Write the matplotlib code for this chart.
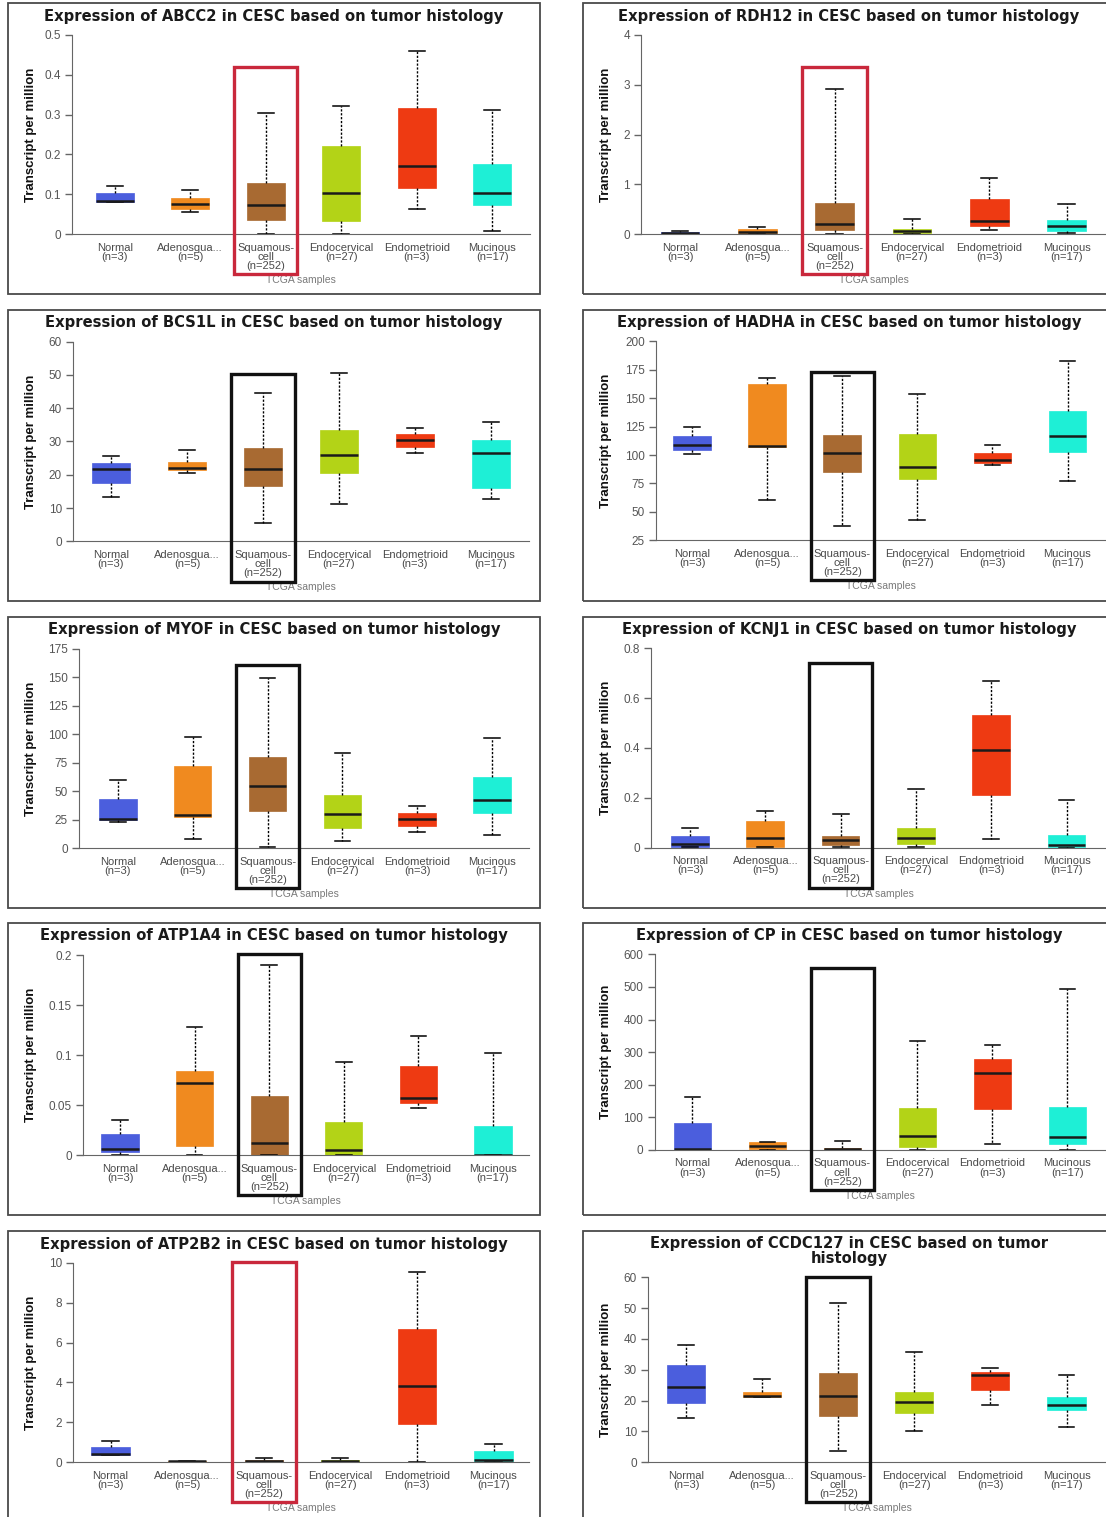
import numpy as np
import matplotlib.pyplot as plt
from matplotlib.patches import Rectangle
from matplotlib.transforms import blended_transform_factory

W, H = 1106, 1517

groups = ['Normal\n(n=3)', 'Adenosqua...\n(n=5)', 'Squamous-\ncell\n(n=252)',
          'Endocervical\n(n=27)', 'Endometrioid\n(n=3)', 'Mucinous\n(n=17)']
box_colors = ['#4B5EDD', '#F08A1F', '#A86A32', '#B3D317', '#EE3A12', '#1EEFD6']

# each row: whisker low, q1, median, q3, whisker high (one row per group)
abcc2 = [[0.080, 0.081, 0.083, 0.103, 0.122],
         [0.056, 0.064, 0.076, 0.092, 0.112],
         [0.001, 0.036, 0.074, 0.129, 0.305],
         [0.001, 0.033, 0.104, 0.220, 0.321],
         [0.063, 0.115, 0.172, 0.317, 0.460],
         [0.008, 0.074, 0.104, 0.176, 0.311]]
rdh12 = [[0.00, 0.01, 0.03, 0.05, 0.07],
         [0.00, 0.02, 0.055, 0.10, 0.155],
         [0.007, 0.08, 0.21, 0.62, 2.92],
         [0.005, 0.02, 0.067, 0.11, 0.31],
         [0.087, 0.175, 0.27, 0.70, 1.135],
         [0.02, 0.06, 0.167, 0.29, 0.61]]
bcs1l = [[13.2, 17.4, 21.6, 23.6, 25.6],
         [20.4, 21.4, 22.0, 23.8, 27.5],
         [5.5, 16.6, 21.8, 28.1, 44.5],
         [11.2, 20.6, 25.8, 33.4, 50.5],
         [26.5, 28.4, 30.6, 32.3, 34.2],
         [12.6, 16.0, 26.6, 30.4, 36.0]]
hadha = [[100.9, 104.4, 108.5, 116.4, 124.4],
         [60.2, 107.0, 107.6, 162.5, 167.7],
         [37.3, 84.8, 102.1, 117.9, 169.2],
         [42.6, 78.9, 89.8, 118.2, 153.7],
         [90.9, 93.0, 95.6, 102.1, 109.1],
         [77.5, 102.7, 116.7, 138.4, 182.4]]
myof = [[23.4, 24.5, 25.7, 43.0, 60.2],
        [8.2, 27.5, 29.2, 72.5, 97.3],
        [1.5, 33.0, 54.9, 79.8, 149.6],
        [6.4, 18.1, 30.1, 47.0, 83.8],
        [14.3, 19.9, 25.4, 30.7, 36.8],
        [11.7, 31.3, 42.7, 62.2, 96.7]]
kcnj1 = [[0.001, 0.004, 0.013, 0.045, 0.080],
         [0.001, 0.003, 0.037, 0.107, 0.148],
         [0.001, 0.011, 0.029, 0.048, 0.134],
         [0.003, 0.013, 0.037, 0.078, 0.237],
         [0.033, 0.211, 0.392, 0.532, 0.670],
         [0.000, 0.001, 0.012, 0.049, 0.193]]
atp1a4 = [[0.0003, 0.003, 0.0067, 0.021, 0.035],
          [0.0003, 0.009, 0.072, 0.084, 0.128],
          [0.0, 0.0, 0.0127, 0.059, 0.190],
          [0.0, 0.0, 0.0053, 0.0337, 0.093],
          [0.0473, 0.0523, 0.0573, 0.089, 0.119],
          [0.0, 0.0003, 0.0007, 0.0297, 0.102]]
cp = [[0.0, 1.0, 3.0, 83.8, 161.5],
      [1.0, 2.0, 13.0, 23.0, 24.0],
      [0.0, 1.0, 3.0, 6.1, 28.6],
      [0.0, 10.0, 42.0, 130.0, 333.0],
      [17.4, 124.7, 235.0, 278.0, 321.0],
      [0.0, 17.4, 40.0, 133.0, 492.7]]
atp2b2 = [[0.37, 0.38, 0.43, 0.75, 1.07],
          [0.02, 0.03, 0.07, 0.08, 0.08],
          [0.0, 0.03, 0.07, 0.10, 0.20],
          [0.0, 0.03, 0.07, 0.10, 0.22],
          [0.02, 1.92, 3.81, 6.66, 9.52],
          [0.02, 0.05, 0.10, 0.58, 0.90]]
ccdc127 = [[14.4, 19.2, 24.4, 31.5, 38.2],
           [21.1, 21.1, 21.4, 22.9, 27.0],
           [3.7, 14.9, 21.4, 29.1, 51.8],
           [10.2, 16.0, 19.5, 22.7, 35.7],
           [18.6, 23.6, 28.4, 29.3, 30.5],
           [11.5, 17.0, 18.7, 21.2, 28.3]]

genes = ['ABCC2', 'RDH12', 'BCS1L', 'HADHA', 'MYOF', 'KCNJ1', 'ATP1A4', 'CP', 'ATP2B2', 'CCDC127']
values = [abcc2, rdh12, bcs1l, hadha, myof, kcnj1, atp1a4, cp, atp2b2, ccdc127]
yticks = [[0, 0.1, 0.2, 0.3, 0.4, 0.5],
          [0, 1, 2, 3, 4],
          [0, 10, 20, 30, 40, 50, 60],
          [25, 50, 75, 100, 125, 150, 175, 200],
          [0, 25, 50, 75, 100, 125, 150, 175],
          [0, 0.2, 0.4, 0.6, 0.8],
          [0, 0.05, 0.1, 0.15, 0.2],
          [0, 100, 200, 300, 400, 500, 600],
          [0, 2, 4, 6, 8, 10],
          [0, 10, 20, 30, 40, 50, 60]]
highlight_red = [True, True, False, False, False, False, False, False, True, False]

# layout in pixels: axes left, right, top, bottom, centre of first box, box spacing
axes_px = [(72, 530, 34.7, 234.3, 114.7, 75.5),
           (641, 1106, 34.7, 234.3, 680, 77.3),
           (73, 529, 341.7, 541.3, 111, 76),
           (656, 1106, 341.3, 540.3, 692, 75.1),
           (79, 529, 648.7, 848.3, 118, 74.8),
           (651, 1106, 648.3, 847.7, 690, 75.3),
           (83, 529, 955.3, 1155.3, 120, 74.6),
           (654.5, 1106, 954.3, 1150, 692.4, 75),
           (73, 529, 1262.7, 1462.3, 110.5, 76.6),
           (648, 1106, 1277.3, 1462.3, 686, 76.1)]
# highlight rectangle top / bottom in axes fraction
hl_y = [(0.84, -0.20), (0.84, -0.20), (0.836, -0.204), (0.844, -0.20), (0.918, -0.20),
        (0.928, -0.204), (1.005, -0.20), (0.931, -0.204), (1.005, -0.20), (1.003, -0.216)]
frame_x = [(8, 540), (583, 1115)]
frame_y = [(3, 294), (310, 601), (617, 908), (923, 1215), (1231, 1560)]

plt.rcParams['font.family'] = ['Liberation Sans', 'DejaVu Sans']

fig = plt.figure(figsize=(W / 100, H / 100), dpi=100)
fig.patch.set_facecolor('white')


def fx(x):
    return x / W


def fy(y):
    return 1 - y / H


for i, gene in enumerate(genes):
    row, col = i // 2, i % 2
    x0f, x1f = frame_x[col]
    y0f, y1f = frame_y[row]
    fig.add_artist(Rectangle((fx(x0f), fy(y1f)), fx(x1f) - fx(x0f), fy(y0f) - fy(y1f),
                             transform=fig.transFigure, fill=False, ec='#4a4a4a', lw=1.3))

    left, right, top, bottom, c0, sp = axes_px[i]
    ax = fig.add_axes([fx(left), fy(bottom), fx(right) - fx(left), fy(top) - fy(bottom)])
    ax.patch.set_alpha(0)

    stats = []
    for g, v in zip(groups, values[i]):
        stats.append(dict(whislo=v[0], q1=v[1], med=v[2], q3=v[3], whishi=v[4], fliers=[], label=g))
    bp = ax.bxp(stats, positions=range(6), widths=0.5, patch_artist=True, showfliers=False,
                capwidths=0.21,
                whiskerprops=dict(color='black', lw=1, linestyle=(0, (1.6, 1.2))),
                capprops=dict(color='black', lw=1.1),
                medianprops=dict(color='#1a1a1a', lw=1.8, solid_capstyle='butt'))
    for patch, c in zip(bp['boxes'], box_colors):
        patch.set_facecolor(c)
        patch.set_edgecolor(c)
        patch.set_linewidth(0.5)

    ax.set_xlim((left - c0) / sp, (right - c0) / sp)
    yt = yticks[i]
    ax.set_ylim(yt[0], yt[-1])
    ax.set_yticks(yt)
    ax.set_yticklabels(['{:g}'.format(t) for t in yt])
    ax.set_xticks(range(6))
    ax.set_xticklabels(groups, fontsize=8, color='#4a4a4a', linespacing=0.9)
    ax.tick_params(axis='x', length=0, pad=6)
    ax.tick_params(axis='y', direction='out', length=5, width=1, color='#666666',
                   labelsize=8.5, labelcolor='#555555', pad=3)
    for s in ['top', 'right']:
        ax.spines[s].set_visible(False)
    ax.spines['left'].set_color('#666666')
    ax.spines['bottom'].set_color('#666666')

    ax.annotate('TCGA samples', xy=(0.5, 0), xycoords='axes fraction', xytext=(0, -33),
                textcoords='offset points', ha='center', va='center', fontsize=7.5, color='#7a7a7a')

    tr = blended_transform_factory(ax.transData, ax.transAxes)
    hy0, hy1 = hl_y[i]
    ec = '#C9283C' if highlight_red[i] else '#111111'
    ax.add_patch(Rectangle((2 - 0.42, hy1), 0.84, hy0 - hy1, transform=tr, fill=False,
                           ec=ec, lw=2.4, clip_on=False, zorder=5))

    # titles and y labels sit in figure coords
    cx = (x0f + x1f) / 2
    title = 'Expression of %s in CESC based on tumor histology' % gene
    if gene == 'CCDC127':
        title = 'Expression of %s in CESC based on tumor\nhistology' % gene
        fig.text(fx(cx), fy(y0f + 20), title, ha='center', va='center', fontsize=10.6,
                 fontweight='bold', family='DejaVu Sans', color='#1a1a1a', linespacing=0.95)
    else:
        fig.text(fx(cx), fy(y0f + 13), title, ha='center', va='center', fontsize=10.6,
                 fontweight='bold', family='DejaVu Sans', color='#1a1a1a')
    fig.text(fx(x0f + 23), fy((top + bottom) / 2), 'Transcript per million', rotation=90,
             ha='center', va='center', fontsize=9.5, fontweight='bold',
             family=['Liberation Sans Narrow', 'Liberation Sans'], color='#111111')

fig.savefig('out.png', dpi=100)
